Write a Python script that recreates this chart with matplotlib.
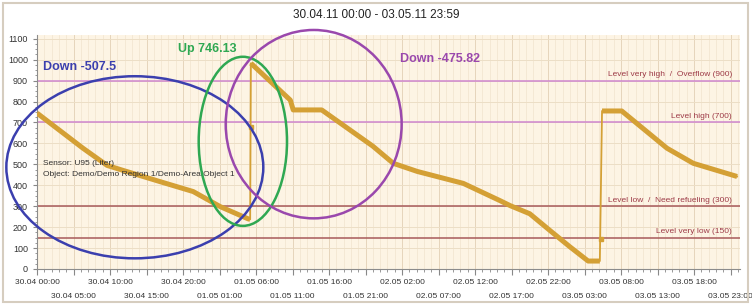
import numpy as np
import matplotlib
matplotlib.use('Agg')
from matplotlib import pyplot as plt
from matplotlib.patches import Ellipse, Rectangle
from matplotlib.ticker import MultipleLocator

plt.rcParams['font.family'] = ['Liberation Sans', 'DejaVu Sans']

# fuel level, hours since 30.04.11 00:00
hours = [0, 6.3, 9.6, 11.8, 16.8, 21.4, 25.1, 28.9, 29.2, 29.3, 34.7, 35.1, 39.0,
         46.0, 48.8, 52.1, 58.4, 63.4, 64.8, 67.5, 70.3, 73.0, 75.5, 77.1, 77.4,
         80.1, 86.3, 89.9, 95.9]
level = [745, 577, 495, 471, 418, 370, 298, 240, 237, 983, 807, 760, 760,
         587, 505, 466, 409, 327, 303, 264, 183, 106, 38, 38, 755,
         755, 577, 505, 442]
# single samples measured during the refuelling jumps
jump_hours = [29.25, 77.25]
jump_level = [678, 144]

tick_hours = list(range(0, 96, 5))
tick_labels = ['30.04 00:00', '30.04 05:00', '30.04 10:00', '30.04 15:00', '30.04 20:00',
               '01.05 01:00', '01.05 06:00', '01.05 11:00', '01.05 16:00', '01.05 21:00',
               '02.05 02:00', '02.05 07:00', '02.05 12:00', '02.05 17:00', '02.05 22:00',
               '03.05 03:00', '03.05 08:00', '03.05 13:00', '03.05 18:00', '03.05 23:00']

limits = [900, 700, 300, 150]
limit_names = ['Level very high  /  Overflow (900)', 'Level high (700)',
               'Level low  /  Need refueling (300)', 'Level very low (150)']
limit_colors = ['#cf86cf', '#cf86cf', '#a85a5a', '#a85a5a']

# hand drawn marks: (centre hour, centre level, width h, height level)
marks = [(13.4, 486, 35.2, 870, '#3b3fae', 'Down -507.5', 0.8, 965),
         (28.2, 610, 12.1, 808, '#2fa852', 'Up 746.13', 19.3, 1050),
         (37.9, 692, 24.1, 900, '#9a48ad', 'Down -475.82', 49.7, 1005)]

fig = plt.figure(figsize=(7.52, 3.04), dpi=100)
fig.patch.set_facecolor('white')
ax = fig.add_axes([37/752, 1-269/304, 703/752, 234/304])
ax.set_facecolor('#fdf4e4')

ax.set_xlim(0, 96.3)
ax.set_ylim(0, 1118)

# grid
ax.xaxis.set_minor_locator(MultipleLocator(1))
ax.yaxis.set_major_locator(MultipleLocator(100))
ax.yaxis.set_minor_locator(MultipleLocator(25))
ax.grid(which='minor', axis='x', color='#f3e6d2', lw=0.6)
ax.grid(which='major', axis='x', color='#e6d5bb', lw=0.7)
ax.grid(which='major', axis='y', color='#ecdec6', lw=0.7)
ax.set_axisbelow(True)

for v, name, c in zip(limits, limit_names, limit_colors):
    ax.axhline(v, color=c, lw=1.1, zorder=2)
    ax.text(95.2, v + 12, name, ha='right', va='bottom', fontsize=6, color='#9e3b48', zorder=3)

# thin line through the jumps, thick for the consumption runs
x = np.array(hours)
y = np.array(level)
ax.plot(x, y, color='#d4a035', lw=1.3, zorder=4)
cuts = np.where(np.diff(y) > 300)[0] + 1
for xs, ys in zip(np.split(x, cuts), np.split(y, cuts)):
    ax.plot(xs, ys, color='#d4a035', lw=3.6, solid_capstyle='butt', zorder=4)
ax.plot(jump_hours, jump_level, 's', color='#d4a035', ms=2.5, zorder=4)

ax.text(0.8, 505, 'Sensor: U95 (Liter)', fontsize=6, color='#333333', va='center', zorder=5)
ax.text(0.8, 453, 'Object: Demo/Demo Region 1/Demo-Area/Object 1', fontsize=6,
        color='#333333', va='center', zorder=5)

for cx, cy, w, h, c, lab, tx, ty in marks:
    ax.add_patch(Ellipse((cx, cy), w, h, fill=False, ec=c, lw=1.8, clip_on=False, zorder=6))
    ax.text(tx, ty, lab, color=c, fontsize=9, fontweight='bold', va='center', zorder=6)

ax.set_xticks(tick_hours)
ax.set_xticklabels(tick_labels, fontsize=6, color='#333333')
ax.tick_params(axis='x', which='major', length=4, color='#888888', pad=3)
ax.tick_params(axis='x', which='minor', length=2, color='#888888')
# every second label goes to a lower row
for i, t in enumerate(ax.xaxis.get_major_ticks()):
    if i % 2 == 1:
        t.set_pad(13)
ax.tick_params(axis='y', which='major', length=3, color='#888888', labelsize=6.5, labelcolor='#333333')
ax.tick_params(axis='y', which='minor', length=1.5, color='#888888')
for s in ['top', 'right']:
    ax.spines[s].set_visible(False)
for s in ['left', 'bottom']:
    ax.spines[s].set_color('#8c8c8c')
    ax.spines[s].set_linewidth(0.8)

fig.text(0.5, 1-15/304, '30.04.11 00:00 - 03.05.11 23:59', ha='center', va='center',
         fontsize=8.5, color='#222222')

fig.add_artist(Rectangle((3/752, 2/304), 745/752, 299/304, transform=fig.transFigure,
                         fill=False, ec='#d6cdbf', lw=1.5))

fig.savefig('out.png', dpi=100)
